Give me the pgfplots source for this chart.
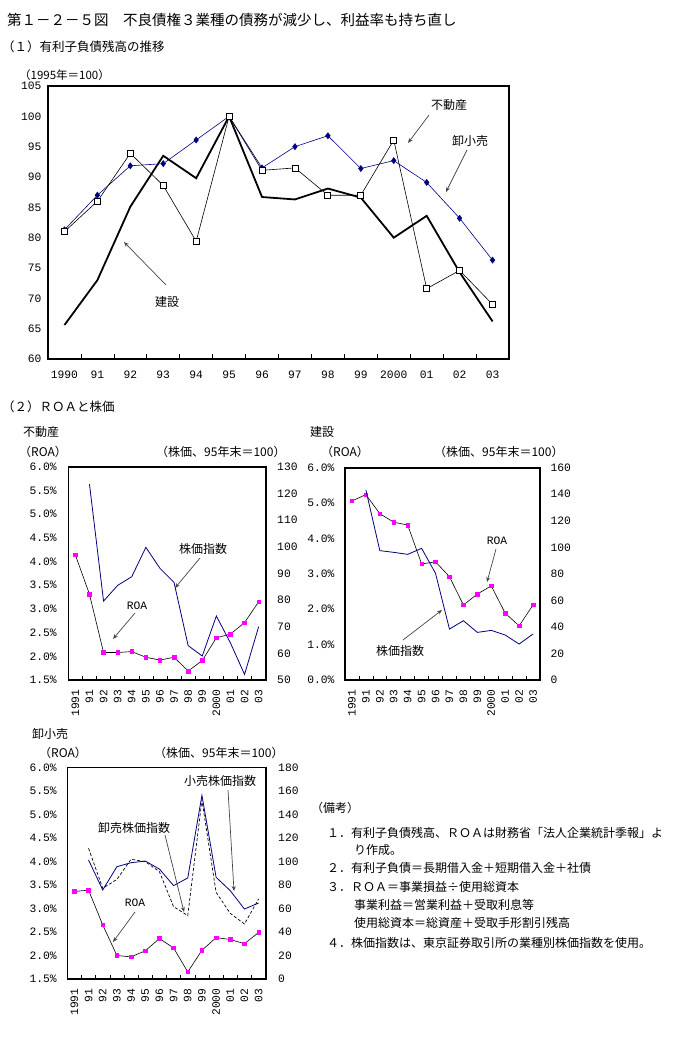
\documentclass[border=0pt]{standalone}
\usepackage{fontspec}
\usepackage{pgfplots}
\pgfplotsset{compat=1.18}
\usetikzlibrary{arrows.meta}
\setmainfont{Noto Sans CJK JP}
\newfontfamily\numfont{Liberation Mono}
\definecolor{navy}{RGB}{0,0,128}
\definecolor{mag}{RGB}{255,0,255}
\definecolor{arrowgray}{RGB}{70,70,70}
\newcommand{\tf}{\numfont\fontsize{11.3}{12}\selectfont}
\newcommand{\jf}{\fontsize{12}{14}\selectfont}
\pgfplotsset{
  /pgf/number format/assume math mode=true,
  small/.style={scale only axis, xmin=-0.5, xmax=13.5,
    xtick={0,...,13},
    xticklabels={1991,91,92,93,94,95,96,97,98,99,2000,01,02,03},
    xticklabel style={rotate=90, anchor=east, font=\tf},
    xticklabel shift=6pt,
    minor xtick={0.5,1.5,...,12.5},
    xtick pos=left, ytick pos=left,
    major tick length=0pt, minor tick length=4pt, tick align=inside,
    minor tick style={line width=0.6pt, black},
    yticklabel style={font=\tf},
    axis line style={line width=1.6pt}},
  rightax/.style={scale only axis, xmin=-0.5, xmax=13.5,
    axis x line=none, axis y line*=right,
    major tick length=0pt,
    yticklabel style={font=\tf},
    y axis line style={draw=none}},
  roa/.style={black, line width=0.6pt, mark=square*, mark size=1.8pt, mark options={fill=mag, draw=mag}},
  stock/.style={navy, line width=0.8pt},
}
\begin{document}
\begin{tikzpicture}[x=1pt,y=1pt]
\path[use as bounding box] (0pt,0pt) rectangle (683pt,-1038pt);

% titles
\node[anchor=west, inner sep=0, font=\fontsize{14.5}{16}\selectfont] at (7pt,-20pt) {第１－２－５図　不良債権３業種の債務が減少し、利益率も持ち直し};
\node[anchor=west, inner sep=0, font=\fontsize{12.5}{14}\selectfont] at (2pt,-47pt) {（１）有利子負債残高の推移};
\node[anchor=west, inner sep=0, font=\fontsize{11.5}{13}\selectfont] at (19pt,-75pt) {（1995年＝100）};
\node[anchor=west, inner sep=0, font=\fontsize{12.5}{14}\selectfont] at (2pt,-407pt) {（２）ＲＯＡと株価};

% ---------------- top chart ----------------
\begin{axis}[at={(48pt,-359pt)}, anchor=south west, scale only axis,
  width=461pt, height=273pt,
  xmin=-0.5, xmax=13.5, ymin=60, ymax=105,
  xtick={0,...,13},
  xticklabels={1990,91,92,93,94,95,96,97,98,99,2000,01,02,03},
  minor xtick={0.5,1.5,...,12.5},
  ytick={60,65,...,105},
  xtick pos=left, ytick pos=left,
  major tick length=0pt, minor tick length=5pt, tick align=inside,
  minor tick style={line width=0.7pt, black},
  xticklabel style={font=\tf}, yticklabel style={font=\tf},
  xticklabel shift=8pt, yticklabel shift=3pt,
  axis line style={line width=2pt}]
\addplot[black, line width=1.8pt] coordinates {
 (0,65.6) (1,73.0) (2,85.1) (3,93.5) (4,89.8) (5,100) (6,86.7) (7,86.3) (8,88.1) (9,86.6) (10,80.0) (11,83.6) (12,74.3) (13,66.2)};
\addplot[navy, line width=0.6pt, mark=diamond*, mark size=3pt, mark options={fill=navy, draw=navy}] coordinates {
 (0,81.3) (1,87.0) (2,91.85) (3,92.2) (4,96.1) (5,100) (6,91.5) (7,95.0) (8,96.8) (9,91.4) (10,92.7) (11,89.1) (12,83.2) (13,76.3)};
\addplot[black, line width=0.6pt, mark=square*, mark size=3pt, mark options={fill=white, draw=black, line width=0.8pt}] coordinates {
 (0,81.0) (1,86.0) (2,93.9) (3,88.6) (4,79.4) (5,100) (6,91.1) (7,91.5) (8,87.0) (9,87.0) (10,96.1) (11,71.6) (12,74.6) (13,69.0)};
\end{axis}
\node[font=\jf] at (449pt,-105pt) {不動産};
\draw[arrowgray, line width=0.7pt, -{Stealth[length=5pt,width=4pt]}] (429pt,-115pt) -- (408pt,-143pt);
\node[font=\jf] at (470pt,-141pt) {卸小売};
\draw[arrowgray, line width=0.7pt, -{Stealth[length=5pt,width=4pt]}] (467pt,-150pt) -- (446pt,-192pt);
\node[font=\jf] at (167pt,-302pt) {建設};
\draw[arrowgray, line width=0.7pt, -{Stealth[length=5pt,width=4pt]}] (166pt,-285pt) -- (124pt,-242pt);

% ---------------- chart 2: 不動産 ----------------
\node[anchor=west, inner sep=0, font=\jf] at (23pt,-432pt) {不動産};
\node[anchor=west, inner sep=0, font=\jf] at (19pt,-452pt) {（ROA）};
\node[anchor=west, inner sep=0, font=\jf] at (156pt,-452pt) {（株価、95年末＝100）};
\begin{axis}[small, at={(68.3pt,-680pt)}, anchor=south west, width=197.4pt, height=213.3pt,
  ymin=1.5, ymax=6.0, ytick={1.5,2.0,...,6.0},
  yticklabels={1.5\%,2.0\%,2.5\%,3.0\%,3.5\%,4.0\%,4.5\%,5.0\%,5.5\%,6.0\%},
  yticklabel shift=8pt]
\addplot[roa] coordinates {
 (0,4.14) (1,3.31) (2,2.08) (3,2.08) (4,2.10) (5,1.98) (6,1.92) (7,1.98) (8,1.69) (9,1.91) (10,2.39) (11,2.47) (12,2.71) (13,3.15)};
\end{axis}
\begin{axis}[rightax, at={(68.3pt,-680pt)}, anchor=south west, width=197.4pt, height=213.3pt,
  ymin=50, ymax=130, ytick={50,60,...,130}, yticklabel shift=8pt]
\addplot[stock] coordinates {
 (1,123.5) (2,79.6) (3,85.5) (4,88.75) (5,99.75) (6,91.9) (7,86.6) (8,62.9) (9,59.0) (10,74.0) (11,63.9) (12,52.1) (13,70.0)};
\end{axis}
\node[font=\jf] at (203pt,-549pt) {株価指数};
\draw[arrowgray, line width=0.7pt, -{Stealth[length=5pt,width=4pt]}] (200pt,-558pt) -- (175pt,-588pt);
\node[font=\tf] at (137pt,-606pt) {ROA};
\draw[arrowgray, line width=0.7pt, -{Stealth[length=5pt,width=4pt]}] (135pt,-613pt) -- (113pt,-639pt);

% ---------------- chart 3: 建設 ----------------
\node[anchor=west, inner sep=0, font=\jf] at (310pt,-432pt) {建設};
\node[anchor=west, inner sep=0, font=\jf] at (321pt,-452pt) {（ROA）};
\node[anchor=west, inner sep=0, font=\jf] at (434pt,-452pt) {（株価、95年末＝100）};
\begin{axis}[small, at={(345pt,-680pt)}, anchor=south west, width=195pt, height=212.3pt,
  ymin=0, ymax=6.0, ytick={0,1,...,6},
  yticklabels={0.0\%,1.0\%,2.0\%,3.0\%,4.0\%,5.0\%,6.0\%},
  yticklabel shift=7pt]
\addplot[roa] coordinates {
 (0,5.06) (1,5.24) (2,4.70) (3,4.46) (4,4.38) (5,3.28) (6,3.34) (7,2.92) (8,2.12) (9,2.43) (10,2.66) (11,1.89) (12,1.53) (13,2.12)};
\end{axis}
\begin{axis}[rightax, at={(345pt,-680pt)}, anchor=south west, width=195pt, height=212.3pt,
  ymin=0, ymax=160, ytick={0,20,...,160}, yticklabel shift=7pt]
\addplot[stock] coordinates {
 (1,143.2) (2,97.5) (3,96.2) (4,94.7) (5,99.2) (6,80.4) (7,38.4) (8,44.7) (9,35.9) (10,37.4) (11,33.9) (12,27.1) (13,34.7)};
\end{axis}
\node[font=\tf] at (497pt,-541pt) {ROA};
\draw[arrowgray, line width=0.7pt, -{Stealth[length=5pt,width=4pt]}] (496pt,-549pt) -- (487pt,-582pt);
\node[font=\jf] at (400pt,-651pt) {株価指数};
\draw[arrowgray, line width=0.7pt, -{Stealth[length=5pt,width=4pt]}] (403pt,-640pt) -- (442pt,-610pt);

% ---------------- chart 4: 卸小売 ----------------
\node[anchor=west, inner sep=0, font=\jf] at (32pt,-734pt) {卸小売};
\node[anchor=west, inner sep=0, font=\jf] at (39pt,-753pt) {（ROA）};
\node[anchor=west, inner sep=0, font=\jf] at (154pt,-753pt) {（株価、95年末＝100）};
\begin{axis}[small, at={(67.3pt,-979pt)}, anchor=south west, width=198.4pt, height=211.7pt,
  ymin=1.5, ymax=6.0, ytick={1.5,2.0,...,6.0},
  yticklabels={1.5\%,2.0\%,2.5\%,3.0\%,3.5\%,4.0\%,4.5\%,5.0\%,5.5\%,6.0\%},
  yticklabel shift=7pt]
\addplot[roa] coordinates {
 (0,3.36) (1,3.39) (2,2.65) (3,2.00) (4,1.97) (5,2.10) (6,2.36) (7,2.16) (8,1.65) (9,2.11) (10,2.38) (11,2.34) (12,2.25) (13,2.49)};
\end{axis}
\begin{axis}[rightax, at={(67.3pt,-979pt)}, anchor=south west, width=198.4pt, height=211.7pt,
  ymin=0, ymax=180, ytick={0,20,...,180}, yticklabel shift=9pt]
\addplot[black, line width=0.7pt, dash pattern=on 3pt off 2pt] coordinates {
 (1,111.1) (2,77.1) (3,84.7) (4,101.8) (5,99.8) (6,91.3) (7,61.5) (8,53.9) (9,152.2) (10,73.7) (11,55.8) (12,46.8) (13,68.0)};
\addplot[stock] coordinates {
 (1,101.2) (2,75.7) (3,95.5) (4,98.9) (5,100.3) (6,93.5) (7,79.4) (8,85.9) (9,156.2) (10,86.5) (11,75.1) (12,59.5) (13,64.6)};
\end{axis}
\node[font=\jf] at (220pt,-781pt) {小売株価指数};
\draw[arrowgray, line width=0.7pt, -{Stealth[length=5pt,width=4pt]}] (228pt,-790pt) -- (234pt,-891pt);
\node[font=\jf] at (134pt,-828pt) {卸売株価指数};
\draw[arrowgray, line width=0.7pt, -{Stealth[length=5pt,width=4pt]}] (165pt,-835pt) -- (184pt,-912pt);
\node[font=\tf] at (135pt,-903pt) {ROA};
\draw[arrowgray, line width=0.7pt, -{Stealth[length=5pt,width=4pt]}] (135pt,-912pt) -- (113pt,-942pt);

% ---------------- notes ----------------
\begin{scope}[every node/.style={anchor=west, inner sep=0, font=\jf}]
\node at (311pt,-808pt) {（備考）};
\node at (327pt,-833pt) {１．有利子負債残高、ＲＯＡは財務省「法人企業統計季報」よ};
\node at (354pt,-850pt) {り作成。};
\node at (327pt,-868pt) {２．有利子負債＝長期借入金＋短期借入金＋社債};
\node at (327pt,-887pt) {３．ＲＯＡ＝事業損益÷使用総資本};
\node at (354pt,-905pt) {事業利益＝営業利益＋受取利息等};
\node at (354pt,-923pt) {使用総資本＝総資産＋受取手形割引残高};
\node at (327pt,-943pt) {４．株価指数は、東京証券取引所の業種別株価指数を使用。};
\end{scope}
\end{tikzpicture}
\end{document}
